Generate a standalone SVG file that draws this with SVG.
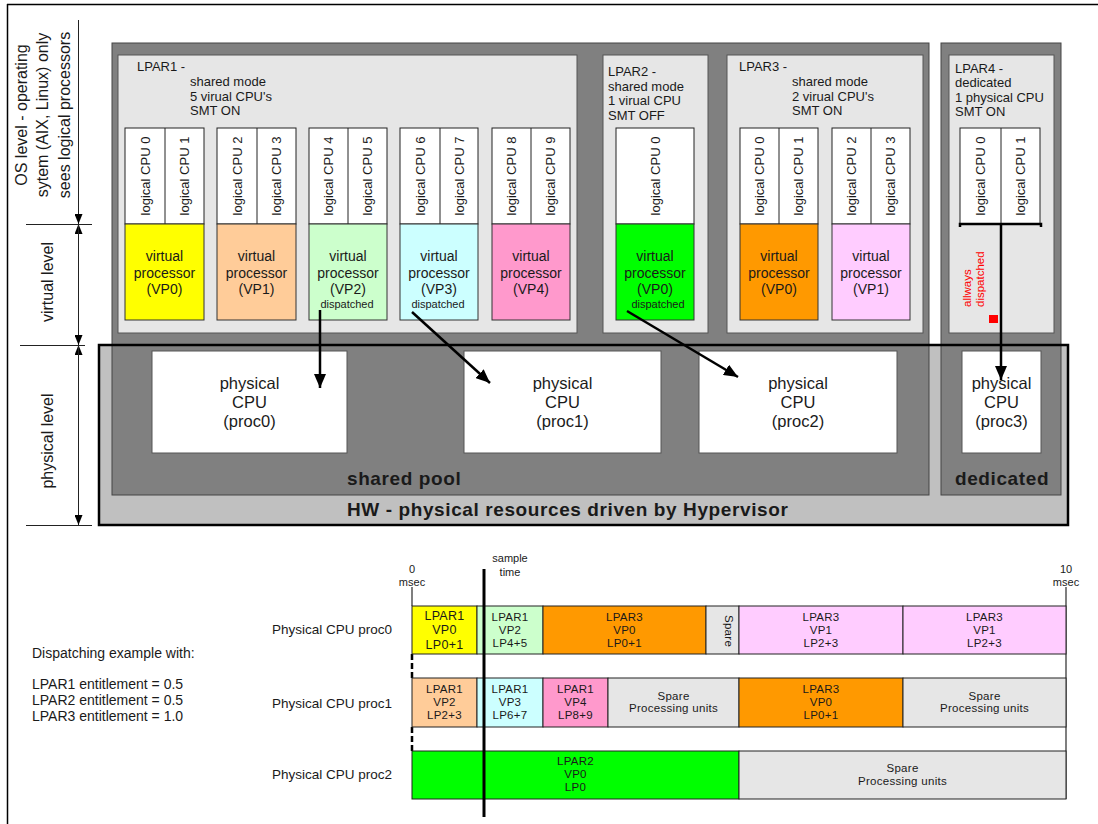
<svg xmlns="http://www.w3.org/2000/svg" width="1098" height="824" viewBox="0 0 1098 824">
<style>
text{font-family:"Liberation Sans",Arial,sans-serif;fill:#1a1a1a}
.ax{font-size:16px}
.lp{font-size:13px}
.lc{font-size:13px;text-anchor:middle}
.vp{font-size:14px;text-anchor:middle}
.ds{font-size:11px;text-anchor:middle}
.pc{font-size:16.5px;text-anchor:middle}
.bd{font-size:19px;font-weight:bold;letter-spacing:0.6px}
.lbox{fill:#e6e6e6;stroke:#555;stroke-width:1}
.dbox{fill:#808080;stroke:#444;stroke-width:1}
.lcb{fill:#fff;stroke:#222;stroke-width:1}
.vpb{stroke:#333;stroke-width:1}
.pcb{fill:#fff;stroke:#555;stroke-width:1}
.thin{stroke:#222;stroke-width:1;fill:none}
.arr{stroke:#000;stroke-width:2.5;fill:none}
.seg{stroke:#222;stroke-width:1}
.st{font-size:11.5px;text-anchor:middle;letter-spacing:0.3px}
.sm{font-size:11px;text-anchor:middle}
.lg{font-size:14px}
.rl{font-size:13.5px}
.red{font-size:11.5px;fill:#ff0000}
</style>
<defs>
<marker id="ah" markerWidth="14" markerHeight="12" refX="14" refY="6" orient="auto" markerUnits="userSpaceOnUse">
<path d="M0,0 L14,6 L0,12 z" fill="#000"/>
</marker>
<marker id="tk" markerWidth="10" markerHeight="8" refX="10" refY="4" orient="auto" markerUnits="userSpaceOnUse">
<path d="M0,0 L10,4 L0,8 z" fill="#000"/>
</marker>
</defs>

<!-- frame -->
<g id="frame">
<line x1="7.5" y1="4" x2="7.5" y2="824" stroke="#000" stroke-width="1.5"/>
<line x1="7" y1="4.5" x2="1098" y2="4.5" stroke="#000" stroke-width="1.5"/>
</g>

<!-- level axis -->
<g id="axis">
<line x1="78.5" y1="20" x2="78.5" y2="224" class="thin" marker-end="url(#tk)"/>
<line x1="78.5" y1="345" x2="78.5" y2="224" class="thin" marker-end="url(#tk)"/>
<line x1="78.5" y1="224" x2="78.5" y2="345" class="thin" marker-end="url(#tk)"/>
<line x1="78.5" y1="525" x2="78.5" y2="345" class="thin" marker-end="url(#tk)"/>
<line x1="78.5" y1="345" x2="78.5" y2="525" class="thin" marker-end="url(#tk)"/>
<line x1="26" y1="224.5" x2="92" y2="224.5" class="thin"/>
<line x1="20" y1="345.5" x2="85" y2="345.5" class="thin"/>
<line x1="26" y1="525.5" x2="92" y2="525.5" class="thin"/>
<text class="ax" transform="translate(27,115) rotate(-90)" text-anchor="middle">OS level - operating</text>
<text class="ax" transform="translate(48,115) rotate(-90)" text-anchor="middle">sytem (AIX, Linux) only</text>
<text class="ax" transform="translate(70,115) rotate(-90)" text-anchor="middle">sees logical processors</text>
<text class="ax" transform="translate(53,282) rotate(-90)" text-anchor="middle">virtual level</text>
<text class="ax" transform="translate(53,441) rotate(-90)" text-anchor="middle">physical level</text>
</g>

<!-- hardware box (fill) -->
<g id="hw">
<rect x="99" y="345" width="969" height="180" fill="#c0c0c0"/>
</g>

<!-- shared pool -->
<g id="shared-pool">
<rect x="112" y="43" width="817" height="452" class="dbox"/>
<text class="bd" x="347" y="485">shared pool</text>
</g>

<!-- dedicated -->
<g id="dedicated">
<rect x="941" y="43" width="120" height="452" class="dbox"/>
<text class="bd" x="955" y="485">dedicated</text>
</g>

<!-- HW border on top -->
<g id="hw-border">
<rect x="99" y="345" width="969" height="180" fill="none" stroke="#000" stroke-width="2.5"/>
<text class="bd" x="347" y="516">HW - physical resources driven by Hypervisor</text>
</g>

<!-- LPAR1 -->
<g id="lpar1">
<rect x="118" y="55" width="459" height="278" class="lbox"/>
<text class="lp" x="137" y="71">LPAR1 -</text>
<text class="lp" x="190" y="86">shared mode</text>
<text class="lp" x="190" y="100.5">5 virual CPU's</text>
<text class="lp" x="190" y="115">SMT ON</text>
<rect x="125" y="128" width="79" height="96" class="lcb"/><line x1="165" y1="128" x2="165" y2="224" class="thin"/>
<rect x="217" y="128" width="79" height="96" class="lcb"/><line x1="257" y1="128" x2="257" y2="224" class="thin"/>
<rect x="309" y="128" width="78" height="96" class="lcb"/><line x1="348" y1="128" x2="348" y2="224" class="thin"/>
<rect x="400" y="128" width="78" height="96" class="lcb"/><line x1="440" y1="128" x2="440" y2="224" class="thin"/>
<rect x="492" y="128" width="78" height="96" class="lcb"/><line x1="531" y1="128" x2="531" y2="224" class="thin"/>
<text class="lc" transform="translate(149.5,176) rotate(-90)">logical CPU 0</text>
<text class="lc" transform="translate(189,176) rotate(-90)">logical CPU 1</text>
<text class="lc" transform="translate(241.5,176) rotate(-90)">logical CPU 2</text>
<text class="lc" transform="translate(281,176) rotate(-90)">logical CPU 3</text>
<text class="lc" transform="translate(333,176) rotate(-90)">logical CPU 4</text>
<text class="lc" transform="translate(372,176) rotate(-90)">logical CPU 5</text>
<text class="lc" transform="translate(424.5,176) rotate(-90)">logical CPU 6</text>
<text class="lc" transform="translate(463.5,176) rotate(-90)">logical CPU 7</text>
<text class="lc" transform="translate(516,176) rotate(-90)">logical CPU 8</text>
<text class="lc" transform="translate(555,176) rotate(-90)">logical CPU 9</text>
<rect x="125" y="224" width="79" height="96" fill="#ffff00" class="vpb"/>
<rect x="217" y="224" width="79" height="96" fill="#ffcc99" class="vpb"/>
<rect x="309" y="224" width="78" height="96" fill="#ccffcc" class="vpb"/>
<rect x="400" y="224" width="78" height="96" fill="#ccffff" class="vpb"/>
<rect x="492" y="224" width="78" height="96" fill="#ff99cc" class="vpb"/>
<text class="vp" x="164.5" y="261">virtual</text><text class="vp" x="164.5" y="278">processor</text><text class="vp" x="164.5" y="294">(VP0)</text>
<text class="vp" x="256.5" y="261">virtual</text><text class="vp" x="256.5" y="278">processor</text><text class="vp" x="256.5" y="294">(VP1)</text>
<text class="vp" x="348" y="261">virtual</text><text class="vp" x="348" y="278">processor</text><text class="vp" x="348" y="294">(VP2)</text>
<text class="ds" x="347" y="308">dispatched</text>
<text class="vp" x="439" y="261">virtual</text><text class="vp" x="439" y="278">processor</text><text class="vp" x="439" y="294">(VP3)</text>
<text class="ds" x="438" y="308">dispatched</text>
<text class="vp" x="531" y="261">virtual</text><text class="vp" x="531" y="278">processor</text><text class="vp" x="531" y="294">(VP4)</text>
</g>

<!-- LPAR2 -->
<g id="lpar2">
<rect x="603" y="55" width="105" height="278" class="lbox"/>
<text class="lp" x="608" y="76">LPAR2 -</text>
<text class="lp" x="608" y="91">shared mode</text>
<text class="lp" x="608" y="105">1 virual CPU</text>
<text class="lp" x="608" y="120">SMT OFF</text>
<rect x="616" y="128" width="78" height="96" class="lcb"/>
<text class="lc" transform="translate(659.5,176) rotate(-90)">logical CPU 0</text>
<rect x="616" y="224" width="78" height="96" fill="#00ff00" class="vpb"/>
<text class="vp" x="655" y="261">virtual</text><text class="vp" x="655" y="278">processor</text><text class="vp" x="655" y="294">(VP0)</text>
<text class="ds" x="658" y="308">dispatched</text>
</g>

<!-- LPAR3 -->
<g id="lpar3">
<rect x="727" y="55" width="196" height="278" class="lbox"/>
<text class="lp" x="739" y="71">LPAR3 -</text>
<text class="lp" x="792" y="86">shared mode</text>
<text class="lp" x="792" y="100.5">2 virual CPU's</text>
<text class="lp" x="792" y="115">SMT ON</text>
<rect x="740" y="128" width="78" height="96" class="lcb"/><line x1="779" y1="128" x2="779" y2="224" class="thin"/>
<rect x="832" y="128" width="78" height="96" class="lcb"/><line x1="871" y1="128" x2="871" y2="224" class="thin"/>
<text class="lc" transform="translate(764,176) rotate(-90)">logical CPU 0</text>
<text class="lc" transform="translate(803,176) rotate(-90)">logical CPU 1</text>
<text class="lc" transform="translate(856,176) rotate(-90)">logical CPU 2</text>
<text class="lc" transform="translate(895,176) rotate(-90)">logical CPU 3</text>
<rect x="740" y="224" width="78" height="96" fill="#ff9900" class="vpb"/>
<rect x="832" y="224" width="78" height="96" fill="#ffccff" class="vpb"/>
<text class="vp" x="779" y="261">virtual</text><text class="vp" x="779" y="278">processor</text><text class="vp" x="779" y="294">(VP0)</text>
<text class="vp" x="871" y="261">virtual</text><text class="vp" x="871" y="278">processor</text><text class="vp" x="871" y="294">(VP1)</text>
</g>

<!-- LPAR4 -->
<g id="lpar4">
<rect x="949" y="55" width="105" height="278" class="lbox"/>
<text class="lp" x="955" y="72.5">LPAR4 -</text>
<text class="lp" x="955" y="87">dedicated</text>
<text class="lp" x="955" y="101.5">1 physical CPU</text>
<text class="lp" x="955" y="116">SMT ON</text>
<rect x="960" y="128" width="80" height="96" class="lcb"/><line x1="1001" y1="128" x2="1001" y2="224" class="thin"/>
<text class="lc" transform="translate(985,176) rotate(-90)">logical CPU 0</text>
<text class="lc" transform="translate(1025,176) rotate(-90)">logical CPU 1</text>
<path d="M960,227 L960,224 L1041,224 L1041,227" fill="none" stroke="#000" stroke-width="2.5"/>
<text class="red" transform="translate(971,307) rotate(-90)">allways</text>
<text class="red" transform="translate(984,307) rotate(-90)">dispatched</text>
<rect x="989" y="315" width="9" height="8" fill="#ff0000"/>
</g>

<!-- physical CPUs -->
<g id="proc0">
<rect x="152" y="351" width="195" height="102" class="pcb"/>
<text class="pc" x="249.5" y="389">physical</text><text class="pc" x="249.5" y="408">CPU</text><text class="pc" x="249.5" y="427">(proc0)</text>
</g>
<g id="proc1">
<rect x="464" y="351" width="197" height="102" class="pcb"/>
<text class="pc" x="562.5" y="389">physical</text><text class="pc" x="562.5" y="408">CPU</text><text class="pc" x="562.5" y="427">(proc1)</text>
</g>
<g id="proc2">
<rect x="699" y="351" width="198" height="102" class="pcb"/>
<text class="pc" x="798" y="389">physical</text><text class="pc" x="798" y="408">CPU</text><text class="pc" x="798" y="427">(proc2)</text>
</g>
<g id="proc3">
<rect x="962" y="351" width="79" height="102" class="pcb"/>
<text class="pc" x="1001.5" y="389">physical</text><text class="pc" x="1001.5" y="408">CPU</text><text class="pc" x="1001.5" y="427">(proc3)</text>
</g>

<!-- connectors -->
<g id="connectors">
<line x1="320" y1="310" x2="320" y2="388" class="arr" marker-end="url(#ah)"/>
<line x1="412" y1="312" x2="490" y2="383" class="arr" marker-end="url(#ah)"/>
<line x1="627" y1="311" x2="738" y2="377" class="arr" marker-end="url(#ah)"/>
<line x1="1001" y1="224" x2="1001" y2="380" class="arr" marker-end="url(#ah)"/>
</g>

<!-- dispatching example -->
<g id="legend">
<text class="lg" x="32" y="658">Dispatching example with:</text>
<text class="lg" x="32" y="689">LPAR1 entitlement = 0.5</text>
<text class="lg" x="32" y="705">LPAR2 entitlement = 0.5</text>
<text class="lg" x="32" y="721">LPAR3 entitlement = 1.0</text>
</g>

<g id="timeline">
<text class="sm" x="412" y="573">0</text><text class="sm" x="412" y="586">msec</text>
<text class="sm" x="1066" y="573">10</text><text class="sm" x="1066" y="586">msec</text>
<line x1="412" y1="587" x2="412" y2="606" stroke="#555" stroke-width="1.5"/>
<line x1="1066" y1="587" x2="1066" y2="799" stroke="#555" stroke-width="1.5"/>
<line x1="412" y1="654" x2="412" y2="678" stroke="#000" stroke-width="2.5" stroke-dasharray="6,3"/>
<line x1="412" y1="727" x2="412" y2="751" stroke="#000" stroke-width="2.5" stroke-dasharray="6,3"/>
</g>

<g id="row-proc0">
<text class="rl" x="272" y="634">Physical CPU proc0</text>
<rect x="412" y="606" width="65" height="48" fill="#ffff00" class="seg"/>
<rect x="477" y="606" width="66" height="48" fill="#ccffcc" class="seg"/>
<rect x="543" y="606" width="163" height="48" fill="#ff9900" class="seg"/>
<rect x="706" y="606" width="33" height="48" fill="#e6e6e6" class="seg"/>
<rect x="739" y="606" width="164" height="48" fill="#ffccff" class="seg"/>
<rect x="903" y="606" width="163" height="48" fill="#ffccff" class="seg"/>
<g style="font-size:12.5px"><text class="st" x="444.5" y="619.5" style="font-size:12.5px">LPAR1</text><text class="st" x="444.5" y="633.5" style="font-size:12.5px">VP0</text><text class="st" x="444.5" y="648.5" style="font-size:12.5px">LP0+1</text></g>
<text class="st" x="510" y="621">LPAR1</text><text class="st" x="510" y="634">VP2</text><text class="st" x="510" y="647">LP4+5</text>
<text class="st" x="624.5" y="621">LPAR3</text><text class="st" x="624.5" y="634">VP0</text><text class="st" x="624.5" y="647">LP0+1</text>
<text class="st" transform="translate(725,631) rotate(90)">Spare</text>
<text class="st" x="821" y="621">LPAR3</text><text class="st" x="821" y="634">VP1</text><text class="st" x="821" y="647">LP2+3</text>
<text class="st" x="984.5" y="621">LPAR3</text><text class="st" x="984.5" y="634">VP1</text><text class="st" x="984.5" y="647">LP2+3</text>
</g>

<g id="row-proc1">
<text class="rl" x="272" y="708">Physical CPU proc1</text>
<rect x="412" y="678" width="65" height="49" fill="#ffcc99" class="seg"/>
<rect x="477" y="678" width="66" height="49" fill="#ccffff" class="seg"/>
<rect x="543" y="678" width="65" height="49" fill="#ff99cc" class="seg"/>
<rect x="608" y="678" width="131" height="49" fill="#e6e6e6" class="seg"/>
<rect x="739" y="678" width="164" height="49" fill="#ff9900" class="seg"/>
<rect x="903" y="678" width="163" height="49" fill="#e6e6e6" class="seg"/>
<text class="st" x="444.5" y="693">LPAR1</text><text class="st" x="444.5" y="706">VP2</text><text class="st" x="444.5" y="719">LP2+3</text>
<text class="st" x="510" y="693">LPAR1</text><text class="st" x="510" y="706">VP3</text><text class="st" x="510" y="719">LP6+7</text>
<text class="st" x="575.5" y="693">LPAR1</text><text class="st" x="575.5" y="706">VP4</text><text class="st" x="575.5" y="719">LP8+9</text>
<text class="st" x="673.5" y="700">Spare</text><text class="st" x="673.5" y="712">Processing units</text>
<text class="st" x="821" y="693">LPAR3</text><text class="st" x="821" y="706">VP0</text><text class="st" x="821" y="719">LP0+1</text>
<text class="st" x="984.5" y="700">Spare</text><text class="st" x="984.5" y="712">Processing units</text>
</g>

<g id="row-proc2">
<text class="rl" x="272" y="779">Physical CPU proc2</text>
<rect x="412" y="751" width="327" height="48" fill="#00ff00" class="seg"/>
<rect x="739" y="751" width="327" height="48" fill="#e6e6e6" class="seg"/>
<text class="st" x="575.5" y="765">LPAR2</text><text class="st" x="575.5" y="778">VP0</text><text class="st" x="575.5" y="791">LP0</text>
<text class="st" x="902.5" y="772">Spare</text><text class="st" x="902.5" y="785">Processing units</text>
</g>

<g id="sample-time">
<line x1="484" y1="569" x2="484" y2="817" stroke="#000" stroke-width="3"/>
<text class="sm" x="510" y="562">sample</text><text class="sm" x="510" y="576">time</text>
</g>
</svg>
